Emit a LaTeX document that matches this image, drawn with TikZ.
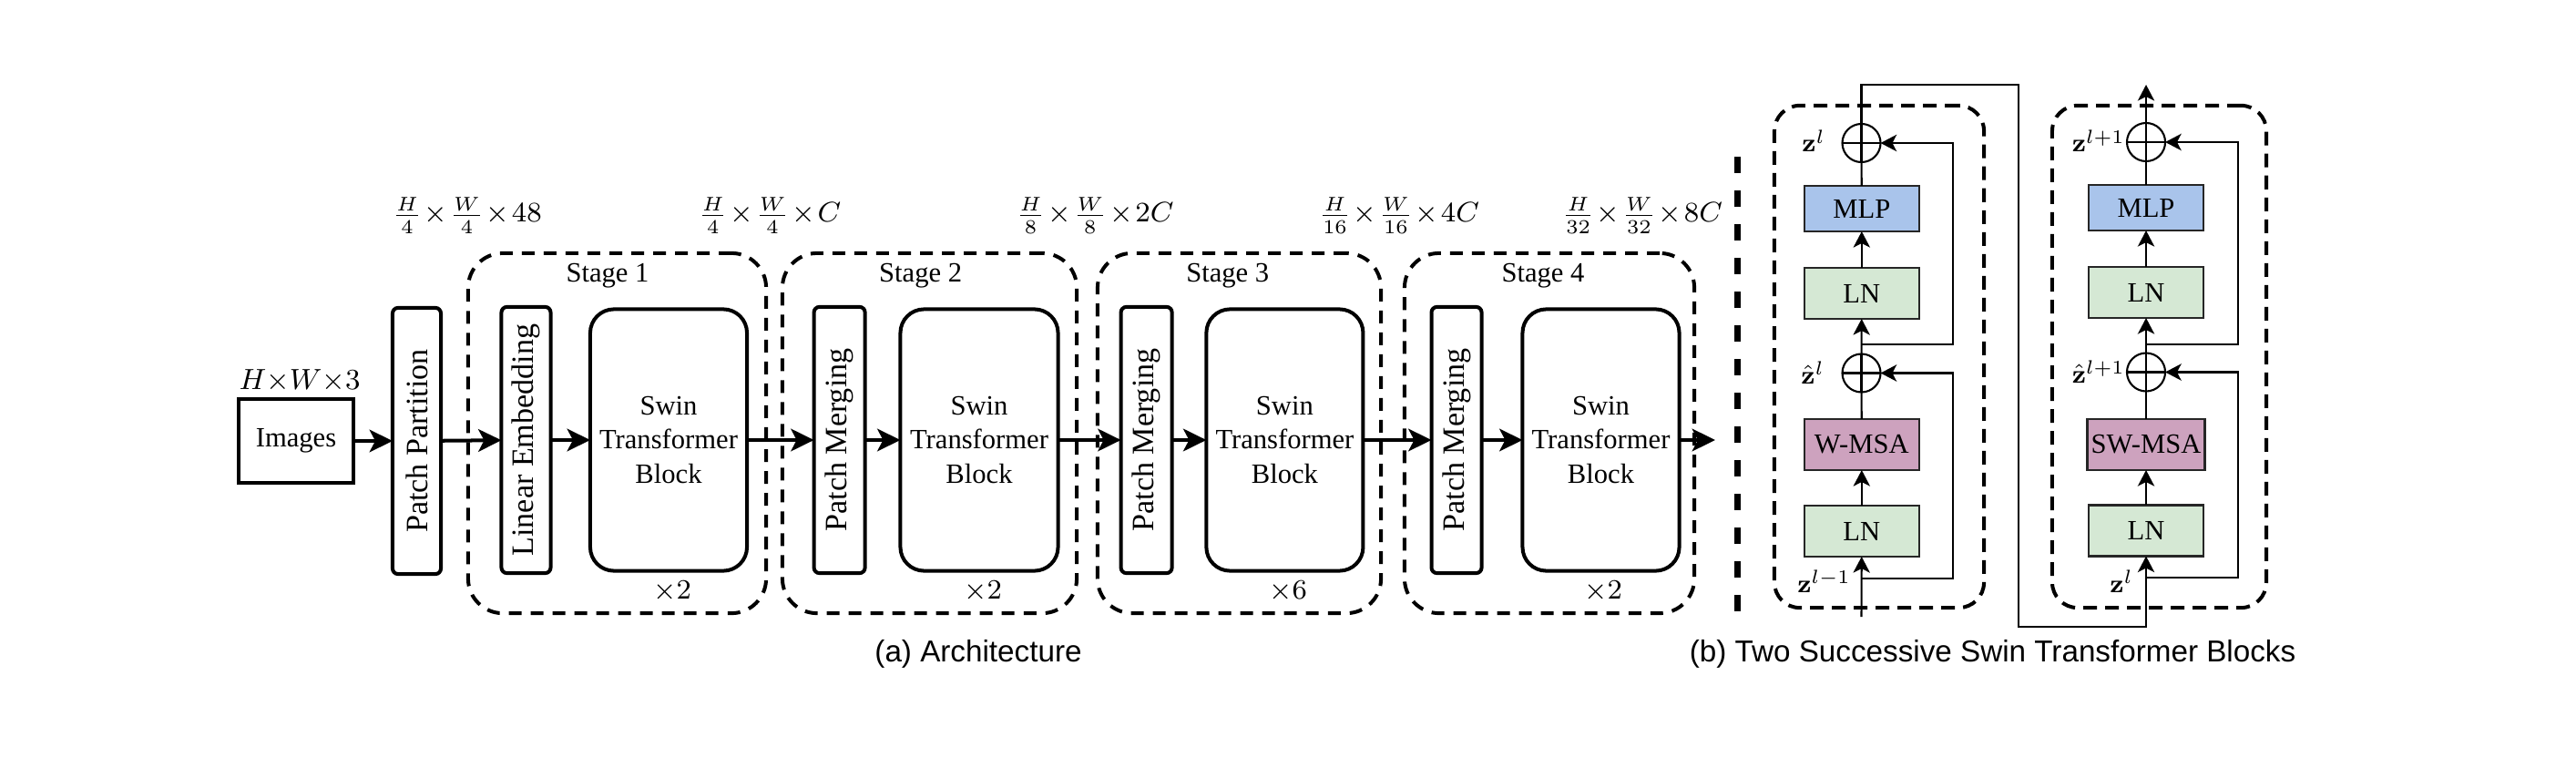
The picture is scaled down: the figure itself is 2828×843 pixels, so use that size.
\RequirePackage{fix-cm}
\documentclass[tikz,border=0pt]{standalone}
\usepackage[no-math]{fontspec}
\usepackage{graphicx}
\setmainfont{Liberation Serif}
\newfontfamily\capfamily{Liberation Sans}
\usetikzlibrary{arrows.meta}
\definecolor{mlpblue}{HTML}{A9C4EB}
\definecolor{lngreen}{HTML}{D5E8D4}
\definecolor{msapurple}{HTML}{CDA2BE}
\definecolor{boxedge}{HTML}{262626}
\newcommand\mytxt{\fontsize{8.7}{10.7}\selectfont}
\newcommand\myrot{\fontsize{9.7}{11}\selectfont}
\newcommand\mylab{\fontsize{8.8}{10}\selectfont\medmuskip=1.5mu}
\newcommand\myz{\fontsize{8}{9}\selectfont}
\newcommand\mycap{\capfamily\fontsize{9.45}{11}\selectfont}
\begin{document}
\begin{tikzpicture}[x=0.01cm,y=-0.01cm,
  every node/.style={inner sep=0pt, outer sep=0pt},
  bigarr/.style={line width=1.14pt, -{Stealth[length=7.2pt,width=7pt,inset=1.8pt]}},
  thinline/.style={line width=0.6pt},
  thinarr/.style={line width=0.6pt, -{Stealth[length=5pt,width=5.2pt,inset=1.3pt]}},
  imgbox/.style={draw, line width=1.14pt, minimum width=1.26cm, minimum height=0.92cm, font=\mytxt},
  tallbox/.style={draw, line width=1.14pt, rounded corners=0.06cm, minimum height=2.92cm, font=\myrot},
  swinbox/.style={draw, line width=1.14pt, rounded corners=0.26cm, minimum width=1.72cm, minimum height=2.87cm, align=center, font=\mytxt},
  stagebox/.style={draw, line width=1.14pt, dash pattern=on 0.14cm off 0.10cm, rounded corners=0.38cm, minimum height=3.95cm},
  blockbox/.style={draw, line width=1.14pt, dash pattern=on 0.15cm off 0.09cm, rounded corners=0.28cm, minimum height=5.51cm},
  opbox/.style={draw=boxedge, line width=0.7pt, minimum width=1.26cm, minimum height=0.56cm, font=\mytxt},
  addc/.style={draw, circle, line width=0.6pt, minimum size=0.42cm},
  zlab/.style={font=\myz},
]
\useasboundingbox (0,0) rectangle (2828,843);

% ---------------- (a) Architecture ----------------
\node[stagebox, minimum width=3.27cm] (st1) at (677.5,475.5) {};
\node[stagebox, minimum width=3.23cm] (st2) at (1020.5,475.5) {};
\node[stagebox, minimum width=3.11cm] (st3) at (1360.5,475.5) {};
\node[stagebox, minimum width=3.18cm] (st4) at (1701,475.5) {};

\node[anchor=base, font=\mytxt] (stl1) at (667,310) {Stage 1};
\node[anchor=base, font=\mytxt] (stl2) at (1010.6,310) {Stage 2};
\node[anchor=base, font=\mytxt] (stl3) at (1347.7,310) {Stage 3};
\node[anchor=base, font=\mytxt] (stl4) at (1694,310) {Stage 4};

\node[imgbox] (img) at (325,484) {Images};
\node[anchor=base, font=\fontsize{9.1}{10}\selectfont] (hw) at (329,427) {$H{\times}W{\times}3$};

\node[tallbox, minimum width=0.53cm] (pp) at (457.5,484) {\rotatebox{90}{Patch Partition}};
\node[tallbox, minimum width=0.54cm] (le) at (577.5,483) {\rotatebox{90}{Linear Embedding}};
\node[swinbox] (s1) at (734,483) {Swin\\Transformer\\Block};
\node[tallbox, minimum width=0.56cm] (pm2) at (921.6,483) {\rotatebox{90}{Patch Merging}};
\node[swinbox, minimum width=1.73cm] (s2) at (1075,483) {Swin\\Transformer\\Block};
\node[tallbox, minimum width=0.56cm] (pm3) at (1258.6,483) {\rotatebox{90}{Patch Merging}};
\node[swinbox] (s3) at (1410.4,483) {Swin\\Transformer\\Block};
\node[tallbox, minimum width=0.55cm] (pm4) at (1599,483) {\rotatebox{90}{Patch Merging}};
\node[swinbox] (s4) at (1757.5,483) {Swin\\Transformer\\Block};
\coordinate (outa) at (1883,483);

\node[anchor=base, font=\mytxt] (r1) at (738,657) {$\times 2$};
\node[anchor=base, font=\mytxt] (r2) at (1079,657) {$\times 2$};
\node[anchor=base, font=\mytxt] (r3) at (1414,657) {$\times 6$};
\node[anchor=base, font=\mytxt] (r4) at (1760,657) {$\times 2$};

\node[anchor=base, font=\mylab] (d1) at (513,244) {$\frac{H}{4}\times\frac{W}{4}\times 48$};
\node[anchor=base, font=\mylab] (d2) at (845,244) {$\frac{H}{4}\times\frac{W}{4}\times C$};
\node[anchor=base, font=\mylab] (d3) at (1202,244) {$\frac{H}{8}\times\frac{W}{8}\times 2C$};
\node[anchor=base, font=\mylab] (d4) at (1536,244) {$\frac{H}{16}\times\frac{W}{16}\times 4C$};
\node[anchor=base, font=\mylab] (d5) at (1803,244) {$\frac{H}{32}\times\frac{W}{32}\times 8C$};

\draw[bigarr] (img) -- (pp);
\draw[bigarr] (pp) -- (le);
\draw[bigarr] (le) -- (s1);
\draw[bigarr] (s1) -- (pm2);
\draw[bigarr] (pm2) -- (s2);
\draw[bigarr] (s2) -- (pm3);
\draw[bigarr] (pm3) -- (s3);
\draw[bigarr] (s3) -- (pm4);
\draw[bigarr] (pm4) -- (s4);
\draw[bigarr] (s4) -- (outa);

\node[anchor=base, font=\mycap] (capa) at (1074,726) {(a) Architecture};

% separator
\coordinate (sep1) at (1907,172);
\coordinate (sep2) at (1907,673);
\draw[line width=2pt, dash pattern=on 0.18cm off 0.19cm] (sep1) -- (sep2);

% ---------------- (b) Two blocks ----------------
\node[blockbox, minimum width=2.30cm] (bl) at (2063,391.5) {};
\node[blockbox, minimum width=2.35cm] (br) at (2370.5,391.5) {};

% left block
\node[opbox, fill=lngreen] (ln1) at (2043.8,583) {LN};
\node[opbox, fill=msapurple] (wmsa) at (2043.8,488) {W-MSA};
\node[addc] (a1) at (2043.5,409.5) {};
\node[opbox, fill=lngreen] (ln2) at (2043.8,322) {LN};
\node[opbox, fill=mlpblue, minimum height=0.50cm] (mlp) at (2043.8,229) {MLP};
\node[addc] (a2) at (2043.5,157) {};

% right block
\node[opbox, fill=lngreen] (ln3) at (2356,582.5) {LN};
\node[opbox, fill=msapurple, minimum width=1.29cm] (swmsa) at (2356,488) {SW-MSA};
\node[addc] (a3) at (2356,408.5) {};
\node[opbox, fill=lngreen] (ln4) at (2356,321) {LN};
\node[opbox, fill=mlpblue, minimum height=0.50cm] (mlp2) at (2356,228) {MLP};
\node[addc] (a4) at (2356,156) {};

% crosses in adders
\foreach \c in {a1,a2,a3,a4}{
  \draw[thinline] (\c.west) -- (\c.east);
  \draw[thinline] (\c.north) -- (\c.south);
}

% labels
\node[zlab, anchor=base east] (zl1) at (2004,167) {$\mathbf{z}^{l}$};
\node[zlab, anchor=base east] (zh1) at (2003,421) {$\hat{\mathbf{z}}^{l}$};
\node[zlab, anchor=base east] (zin) at (2032,650) {$\mathbf{z}^{l-1}$};
\node[zlab, anchor=base east] (zl2) at (2333,167) {$\mathbf{z}^{l+1}$};
\node[zlab, anchor=base east] (zh2) at (2333,420) {$\hat{\mathbf{z}}^{l+1}$};
\node[zlab, anchor=base east] (zl3) at (2342,650) {$\mathbf{z}^{l}$};

% coordinates for connectors
\coordinate (in1) at (2043.5,677);
\coordinate (j1) at (2043.5,635);
\coordinate (k1) at (2144,635);
\coordinate (j2) at (2043.5,378);
\coordinate (k2) at (2144,378);
\coordinate (t1) at (2043.5,93);
\coordinate (t2) at (2216,93);
\coordinate (t3) at (2216,688);
\coordinate (t4) at (2356,688);
\coordinate (j3) at (2356,634);
\coordinate (k3) at (2457,634);
\coordinate (j4) at (2356,378);
\coordinate (k4) at (2457,378);
\coordinate (o2) at (2356,93);

% left block connectors
\draw[thinarr] (in1) -- (ln1);
\draw[thinarr] (j1) -- (k1) |- (a1);
\draw[thinarr] (ln1) -- (wmsa);
\draw[thinline] (wmsa) -- (a1);
\draw[thinarr] (a1) -- (ln2);
\draw[thinarr] (j2) -- (k2) |- (a2);
\draw[thinarr] (ln2) -- (mlp);
\draw[thinline] (mlp) -- (a2);
\draw[thinarr] (a2) -- (t1) -- (t2) -- (t3) -- (t4) -- (ln3);

% right block connectors
\draw[thinarr] (j3) -- (k3) |- (a3);
\draw[thinarr] (ln3) -- (swmsa);
\draw[thinline] (swmsa) -- (a3);
\draw[thinarr] (a3) -- (ln4);
\draw[thinarr] (j4) -- (k4) |- (a4);
\draw[thinarr] (ln4) -- (mlp2);
\draw[thinline] (mlp2) -- (a4);
\draw[thinarr] (a4) -- (o2);

\node[anchor=base, font=\mycap] (capb) at (2187.5,726) {(b) Two Successive Swin Transformer Blocks};
\end{tikzpicture}
\end{document}
